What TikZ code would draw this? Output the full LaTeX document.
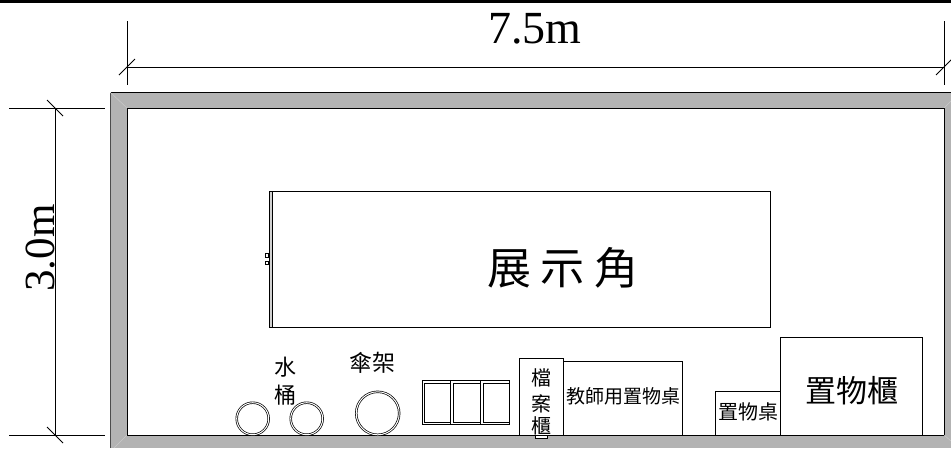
\documentclass[tikz,border=0pt]{standalone}
\usepackage{fontspec}
\setmainfont{Noto Sans CJK TC}
\newfontfamily\dimfont{Liberation Serif}
\definecolor{wallgray}{HTML}{B3B3B3}
\tikzset{
	dimlabel/.style={draw=none, inner sep=0pt, font=\dimfont\fontsize{46}{46}\selectfont},
	smalllabel/.style={draw=none, inner sep=0pt, font=\fontsize{19}{19}\selectfont},
	midlabel/.style={draw=none, inner sep=0pt, font=\fontsize{22}{22}\selectfont},
	biglabel/.style={draw=none, inner sep=0pt, font=\fontsize{31}{31}\selectfont},
	hugelabel/.style={draw=none, inner sep=0pt, font=\fontsize{44}{44}\selectfont},
	furniture/.style={draw, line width=1pt, fill=white},
	bucket/.style={draw, line width=0.7pt, double, double distance=1pt}
}
\begin{document}
\begin{tikzpicture}[x=1pt, y=-1pt, line width=1pt]
\useasboundingbox (0,0) rectangle (951,448);

\draw [line width=3pt] (0,1) -- (951,1);

\fill [wallgray] (110.5,92.5) rectangle (951,448);
\draw [black!70] (110.5,448) -- (110.5,92.5);
\draw (110.5,92.5) -- (951,92.5);
\draw [fill=white] (127,108) rectangle (944,435);
\draw [white!30!wallgray, line width=0.5pt] (110.5,92.5) -- (127,108);
\draw [white!30!wallgray, line width=0.5pt] (951,101) -- (944,108);
\draw [white!30!wallgray, line width=0.5pt] (114,448) -- (127,435);
\draw [white!30!wallgray, line width=0.5pt] (944,435) -- (951,441);

\draw (127,21) -- (127,85);
\draw (944,21) -- (944,85);
\draw (127,67) -- (944,67);
\foreach \x in {127, 944}
{
	\draw (\x-8,75) -- (\x+8,59);
}

\draw (9,108) -- (105,108);
\draw (9,435) -- (105,435);
\draw (55,108) -- (55,435);
\foreach \y in {108, 435}
{
	\draw (47,\y-8) -- (63,\y+8);
}

\path (535,29) node[dimlabel] (width) {7.5m};
\path (41,248) node[dimlabel, rotate=90, font=\dimfont\fontsize{43}{43}\selectfont] (depth) {3.0m};

\draw [fill=white] (269,191) rectangle (770,327);
\draw [fill=wallgray!60] (269,191) rectangle (272,327);
\draw [line width=0.7pt, fill=white] (265.5,253.5) rectangle (268.5,257);
\draw [line width=0.7pt, fill=white] (265.5,261) rectangle (268.5,264.5);
\path (563,268) node[hugelabel] (corner) {展\hspace{10pt}示\hspace{10pt}角};

\draw [bucket] (252.7,418.7) circle (16pt);
\draw [bucket] (306.7,418.7) circle (16pt);
\draw [bucket] (377.7,413.3) circle (21.5pt);
\path (285.7,366.7) node[midlabel] (water) {水};
\path (285.7,395) node[midlabel] (pail) {桶};
\path (372,363) node[midlabel, font=\fontsize{23}{23}\selectfont] (umbrella) {傘架};

\draw (422.3,380.7) rectangle (509,424.7);
\foreach \x/\w in {422.3/450.7, 450.7/480.7, 480.7/509}
{
	\draw [line width=0.8pt] (\x,380.7) rectangle (\w,424.7);
	\draw [line width=0.8pt] (\x+2.5,383.5) rectangle (\w,422);
}

\draw [furniture] (535,433) rectangle (547,438);
\draw [furniture] (519.3,358.7) rectangle (563.3,435);
\path (541,378) node[smalllabel, font=\fontsize{20}{20}\selectfont] (file1) {檔};
\path (541,404) node[smalllabel, font=\fontsize{20}{20}\selectfont] (file2) {案};
\path (541,426) node[smalllabel, font=\fontsize{20}{20}\selectfont] (file3) {櫃};

\draw [furniture] (563.3,361.3) rectangle (682.7,435);
\path (623,396.7) node[smalllabel] (teacher) {教師用置物桌};

\draw [furniture] (715.3,391.3) rectangle (780.5,435);
\path (748,412) node[smalllabel, font=\fontsize{20}{20}\selectfont] (desk) {置物桌};

\draw [furniture] (780.5,337.5) rectangle (922.3,435);
\path (852,390.7) node[biglabel] (cabinet) {置物櫃};

\end{tikzpicture}
\end{document}
